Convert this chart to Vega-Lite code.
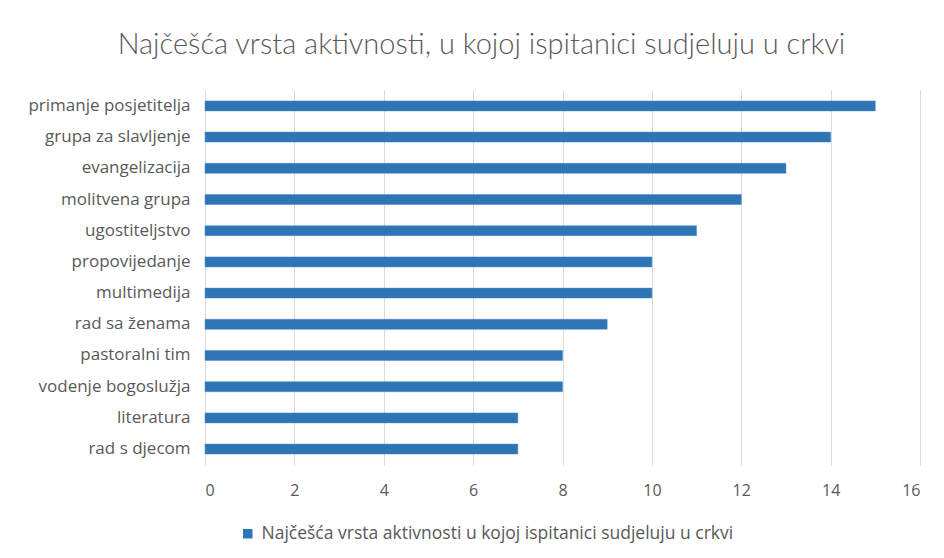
{
  "$schema": "https://vega.github.io/schema/vega-lite/v6.json",
  "width": 715,
  "height": 375,
  "autosize": {"type": "none"},
  "padding": {"left": 205, "top": 90, "right": 24, "bottom": 93},
  "background": "white",
  "title": {
    "text": "Najčešća vrsta aktivnosti, u kojoj ispitanici sudjeluju u crkvi",
    "anchor": "middle",
    "frame": "group",
    "dx": -81,
    "offset": 30,
    "font": "Lato",
    "fontSize": 29,
    "fontWeight": 300,
    "color": "#595959"
  },
  "data": {
    "values": [
      {"aktivnost": "primanje posjetitelja", "broj": 15, "serija": "Najčešća vrsta aktivnosti u kojoj ispitanici sudjeluju u crkvi"},
      {"aktivnost": "grupa za slavljenje", "broj": 14, "serija": "Najčešća vrsta aktivnosti u kojoj ispitanici sudjeluju u crkvi"},
      {"aktivnost": "evangelizacija", "broj": 13, "serija": "Najčešća vrsta aktivnosti u kojoj ispitanici sudjeluju u crkvi"},
      {"aktivnost": "molitvena grupa", "broj": 12, "serija": "Najčešća vrsta aktivnosti u kojoj ispitanici sudjeluju u crkvi"},
      {"aktivnost": "ugostiteljstvo", "broj": 11, "serija": "Najčešća vrsta aktivnosti u kojoj ispitanici sudjeluju u crkvi"},
      {"aktivnost": "propovijedanje", "broj": 10, "serija": "Najčešća vrsta aktivnosti u kojoj ispitanici sudjeluju u crkvi"},
      {"aktivnost": "multimedija", "broj": 10, "serija": "Najčešća vrsta aktivnosti u kojoj ispitanici sudjeluju u crkvi"},
      {"aktivnost": "rad sa ženama", "broj": 9, "serija": "Najčešća vrsta aktivnosti u kojoj ispitanici sudjeluju u crkvi"},
      {"aktivnost": "pastoralni tim", "broj": 8, "serija": "Najčešća vrsta aktivnosti u kojoj ispitanici sudjeluju u crkvi"},
      {"aktivnost": "vodenje bogoslužja", "broj": 8, "serija": "Najčešća vrsta aktivnosti u kojoj ispitanici sudjeluju u crkvi"},
      {"aktivnost": "literatura", "broj": 7, "serija": "Najčešća vrsta aktivnosti u kojoj ispitanici sudjeluju u crkvi"},
      {"aktivnost": "rad s djecom", "broj": 7, "serija": "Najčešća vrsta aktivnosti u kojoj ispitanici sudjeluju u crkvi"}
    ]
  },
  "mark": {"type": "bar", "stroke": "#4a8ad0", "strokeWidth": 0.5},
  "encoding": {
    "y": {
      "field": "aktivnost",
      "type": "nominal",
      "sort": null,
      "scale": {"paddingInner": 0.68, "paddingOuter": 0.35},
      "axis": {
        "title": null,
        "domain": false,
        "ticks": false,
        "grid": false,
        "labelPadding": 15,
        "labelFont": "Open Sans",
        "labelFontSize": 17,
        "labelColor": "#595959"
      }
    },
    "x": {
      "field": "broj",
      "type": "quantitative",
      "scale": {"domain": [0, 16], "nice": false},
      "axis": {
        "title": null,
        "values": [0, 2, 4, 6, 8, 10, 12, 14, 16],
        "domain": false,
        "ticks": false,
        "grid": true,
        "gridColor": "#D9D9D9",
        "gridWidth": 1,
        "labelPadding": 17,
        "labelFont": "Open Sans",
        "labelFontSize": 16,
        "labelColor": "#595959"
      }
    },
    "color": {
      "field": "serija",
      "type": "nominal",
      "scale": {"range": ["#2E75B6"]},
      "legend": {
        "title": null,
        "orient": "none",
        "legendX": 34,
        "legendY": 435,
        "symbolType": "square",
        "symbolSize": 90,
        "symbolStrokeWidth": 0,
        "labelFont": "Open Sans",
        "labelFontSize": 17.5,
        "labelColor": "#595959",
        "labelLimit": 700,
        "labelOffset": 5
      }
    }
  },
  "config": {
    "view": {"stroke": null}
  }
}
